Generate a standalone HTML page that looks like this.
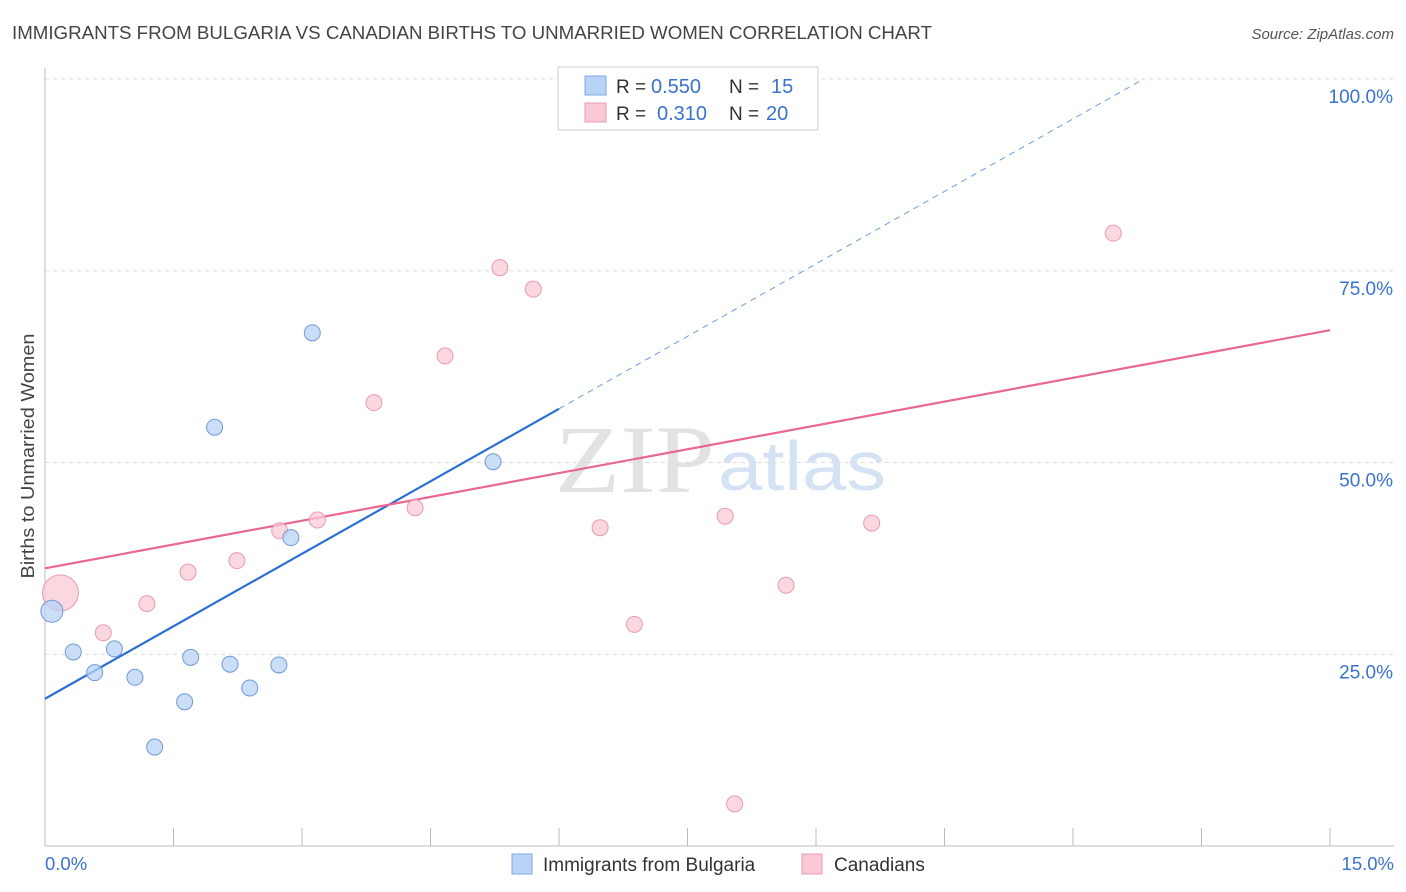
<!DOCTYPE html>
<html><head><meta charset="utf-8">
<style>
body{margin:0;background:#fff;font-family:"Liberation Sans",sans-serif;}
#wrap{position:relative;width:1406px;height:892px;overflow:hidden;}
</style></head>
<body>
<div id="wrap">
<svg id="svg" width="1406" height="892" xmlns="http://www.w3.org/2000/svg">
<text x="12" y="39" font-size="18" fill="#444" textLength="920" lengthAdjust="spacingAndGlyphs">IMMIGRANTS FROM BULGARIA VS CANADIAN BIRTHS TO UNMARRIED WOMEN CORRELATION CHART</text>
<text x="1394" y="39" font-size="15" fill="#555" font-style="italic" text-anchor="end">Source: ZipAtlas.com</text>
<text x="0" y="0" font-size="18" fill="#444" text-anchor="middle" textLength="245" lengthAdjust="spacingAndGlyphs" transform="translate(34 456) rotate(-90)">Births to Unmarried Women</text>
<text x="555" y="492" font-size="96" fill="#e2e2e2" textLength="160" lengthAdjust="spacingAndGlyphs" font-family="Liberation Serif,serif">ZIP</text>
<text x="718" y="490" font-size="70" fill="#d4e2f4" textLength="168" lengthAdjust="spacingAndGlyphs">atlas</text>
<g id="grid"></g><g id="axes"></g><g id="lines"></g><g id="pts"></g>
<g>
<rect x="558" y="67" width="260" height="63" fill="#fff" stroke="#ccc"/>
<rect x="585" y="76" width="21" height="19" fill="#b8d3f5" stroke="#7fa8e0"/>
<rect x="585" y="103" width="21" height="19" fill="#f9c9d6" stroke="#eb9ab2"/>
<text x="616" y="93" font-size="19" fill="#333">R =</text>
<text x="651" y="93" font-size="20" fill="#3a72d0">0.550</text>
<text x="729" y="93" font-size="19" fill="#333">N =</text>
<text x="771" y="93" font-size="20" fill="#3a72d0">15</text>
<text x="616" y="120" font-size="19" fill="#333">R =</text>
<text x="657" y="120" font-size="20" fill="#3a72d0">0.310</text>
<text x="729" y="120" font-size="19" fill="#333">N =</text>
<text x="766" y="120" font-size="20" fill="#3a72d0">20</text>
</g>
<g>
<rect x="512" y="854" width="20" height="20" fill="#b8d3f5" stroke="#7fa8e0"/>
<text x="543" y="871" font-size="19" fill="#333">Immigrants from Bulgaria</text>
<rect x="802" y="854" width="20" height="20" fill="#f9c9d6" stroke="#eb9ab2"/>
<text x="834" y="871" font-size="19" fill="#333">Canadians</text>
</g>
<text x="45" y="870" font-size="18.5" fill="#3a72d0">0.0%</text>
<text x="1394" y="870" font-size="18.5" fill="#3a72d0" text-anchor="end">15.0%</text>
</svg>
</div>
<script>
const yTicks=[25,50,75,100];
const yTickLabels=["25.0%","50.0%","75.0%","100.0%"];
const blueX=[0.08,0.33,0.58,0.81,1.05,1.28,1.63,1.70,2.16,2.39,2.73,2.87,1.98,3.12,5.23];
const blueY=[30.6,25.3,22.6,25.7,22.0,12.9,18.8,24.6,23.7,20.6,23.6,40.2,54.6,66.9,50.1];
const pinkX=[0.18,0.68,1.19,1.67,2.24,2.74,3.18,3.84,4.32,4.67,5.31,5.70,6.48,6.88,7.94,8.05,8.65,9.65,12.47];
const pinkY=[33.0,27.8,31.6,35.7,37.2,41.1,42.5,57.8,44.1,63.9,75.4,72.6,41.5,28.9,43.0,5.5,34.0,42.1,79.9];
const blueLine=[19.2,6.3];
const pinkLine=[36.2,2.07];
const xs=v=>45+v/15*1285, ys=v=>846-v*7.67;
const NS="http://www.w3.org/2000/svg";
function mk(t,a,p){const e=document.createElementNS(NS,t);for(const k in a)e.setAttribute(k,a[k]);document.getElementById(p).appendChild(e);return e;}
yTicks.forEach((t,i)=>{
 const l=mk('line',{x1:45,x2:1394,y1:ys(t),y2:ys(t),stroke:'#ddd','stroke-dasharray':'4,4'},'grid');
 
 
 const tx=mk('text',{x:1393,y:ys(t)+24,'font-size':19,fill:'#3a72d0','text-anchor':'end'},'grid');
 tx.textContent=yTickLabels[i];
 
 
});
mk('line',{x1:45,x2:45,y1:68,y2:846,stroke:'#bbb'},'axes');
mk('line',{x1:45,x2:1394,y1:846,y2:846,stroke:'#bbb'},'axes');
for(let i=0;i<=10;i++){const x=xs(i*1.5);mk('line',{x1:x,x2:x,y1:828,y2:846,stroke:'#bbb'},'axes');}
const bx2=6,bx3=(100-blueLine[0])/blueLine[1];
let l=mk('line',{x1:xs(0),y1:ys(blueLine[0]),x2:xs(bx2),y2:ys(blueLine[0]+blueLine[1]*bx2),stroke:'#2a6fd6','stroke-width':2.2},'lines');


l=mk('line',{x1:xs(bx2),y1:ys(blueLine[0]+blueLine[1]*bx2),x2:xs(bx3),y2:ys(100),stroke:'#6a9ee0','stroke-width':1,'stroke-dasharray':'6,5'},'lines');


l=mk('line',{x1:xs(0),y1:ys(pinkLine[0]),x2:xs(15),y2:ys(pinkLine[0]+pinkLine[1]*15),stroke:'#e8688f','stroke-width':2.2},'lines');


pinkX.forEach((x,i)=>{
 const c=mk('circle',{cx:xs(x),cy:ys(pinkY[i]),r:i===0?18:8,fill:'#f9c9d6','fill-opacity':0.75,stroke:'#eb9ab2'},'pts');
 
 
});
blueX.forEach((x,i)=>{
 const c=mk('circle',{cx:xs(x),cy:ys(blueY[i]),r:i===0?11:8,fill:'#b8d3f5','fill-opacity':0.75,stroke:'#6f9ad6'},'pts');
 
 
});
</script>
</body></html>
